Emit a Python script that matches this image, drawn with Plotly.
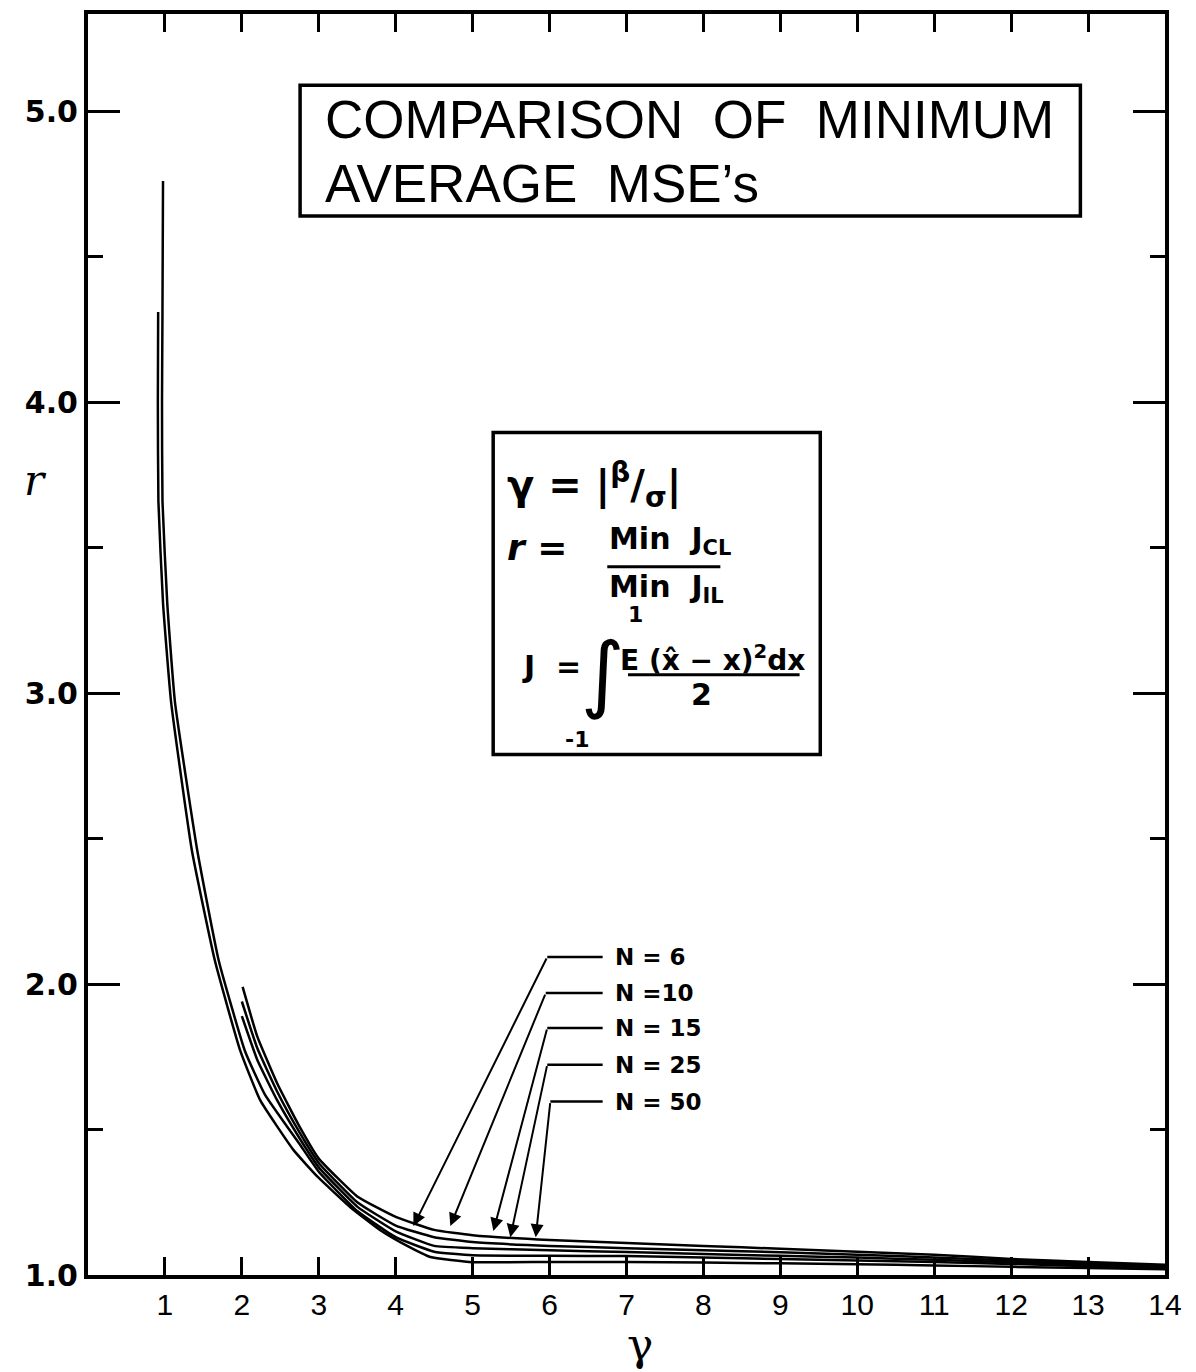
import plotly.graph_objects as go

# ---------------- data ----------------
gamma_N6 = [2.01, 2.2, 2.46, 2.75, 3.0, 3.5, 4.0, 4.5, 5.0, 6.0, 7.0, 8.0, 9.0, 10.0, 11.0, 12.0, 13.0, 14.0]
ratio_N6 = [1.99, 1.82, 1.658, 1.51, 1.40, 1.27, 1.20, 1.155, 1.137, 1.12, 1.11, 1.10, 1.09, 1.08, 1.07, 1.055, 1.045, 1.035]

gamma_N10 = [2.0, 2.2, 2.46, 2.75, 3.0, 3.5, 4.0, 4.5, 5.0, 6.0, 7.0, 8.0, 9.0, 10.0, 11.0, 12.0, 13.0, 14.0]
ratio_N10 = [1.94, 1.78, 1.63, 1.49, 1.385, 1.25, 1.17, 1.13, 1.113, 1.10, 1.092, 1.085, 1.078, 1.07, 1.06, 1.05, 1.04, 1.03]

gamma_N15 = [2.0, 2.2, 2.46, 2.75, 3.0, 3.5, 4.0, 4.5, 5.0, 6.0, 7.0, 8.0, 9.0, 10.0, 11.0, 12.0, 13.0, 14.0]
ratio_N15 = [1.89, 1.74, 1.60, 1.47, 1.37, 1.235, 1.15, 1.10, 1.092, 1.085, 1.079, 1.072, 1.066, 1.06, 1.052, 1.044, 1.036, 1.028]

gamma_N25 = [0.975, 0.968, 0.962, 0.968, 1.03, 1.13, 1.42, 1.70, 2.04, 2.3, 2.75, 3.0, 3.5, 4.0, 4.5, 5.0, 6.0, 7.0, 8.0, 9.0, 10.0, 11.0, 12.0, 13.0, 14.0]
ratio_N25 = [4.76, 4.31, 4.00, 3.66, 3.31, 2.97, 2.46, 2.08, 1.77, 1.62, 1.45, 1.355, 1.22, 1.13, 1.08, 1.068, 1.066, 1.065, 1.06, 1.055, 1.05, 1.045, 1.038, 1.03, 1.025]

gamma_N50 = [0.912, 0.908, 0.915, 0.975, 1.08, 1.35, 1.65, 1.98, 2.24, 2.67, 2.99, 3.41, 3.80, 4.15, 4.45, 5.0, 6.0, 7.0, 8.0, 9.0, 10.0, 11.0, 12.0, 13.0, 14.0]
ratio_N50 = [4.31, 4.00, 3.66, 3.31, 2.97, 2.46, 2.08, 1.77, 1.60, 1.43, 1.336, 1.233, 1.154, 1.10, 1.062, 1.044, 1.045, 1.045, 1.043, 1.04, 1.037, 1.033, 1.028, 1.024, 1.02]

curve_names = ["N = 6", "N = 10", "N = 15", "N = 25", "N = 50"]
curve_gammas = [gamma_N6, gamma_N10, gamma_N15, gamma_N25, gamma_N50]
curve_ratios = [ratio_N6, ratio_N10, ratio_N15, ratio_N25, ratio_N50]

label_texts = ["N = 6", "N =10", "N = 15", "N = 25", "N = 50"]
label_y = [2.093, 1.969, 1.849, 1.723, 1.596]
label_x = 6.82
elbow_x = [5.97, 5.95, 5.97, 5.97, 6.01]
line_end_x = 6.69
tip_x = [4.23, 4.71, 5.27, 5.49, 5.82]
tip_y = [1.168, 1.168, 1.151, 1.130, 1.130]

x_ticks = list(range(1, 15))
y_ticks = [1.0, 2.0, 3.0, 4.0, 5.0]
y_tick_text = ["1.0", "2.0", "3.0", "4.0", "5.0"]

title_lines = ["COMPARISON  OF  MINIMUM", "AVERAGE  MSE\u2019s"]

# ---------------- figure ----------------
fig = go.Figure()
for g, r, n in zip(curve_gammas, curve_ratios, curve_names):
    fig.add_trace(go.Scatter(x=g, y=r, mode="lines", name=n,
                             line=dict(color="black", width=2.5, shape="spline", smoothing=0.4),
                             showlegend=False, hoverinfo="skip"))

font_main = "Liberation Sans, Arial, sans-serif"
font_bold = "DejaVu Sans, sans-serif"
shapes = []
annotations = []

# labels with arrows
for t, ly, ex, tx, ty in zip(label_texts, label_y, elbow_x, tip_x, tip_y):
    annotations.append(dict(x=label_x, y=ly, xref="x", yref="y", text="<b>%s</b>" % t,
                            showarrow=False, xanchor="left", yanchor="middle",
                            font=dict(family=font_bold, size=23, color="black")))
    shapes.append(dict(type="line", xref="x", yref="y", x0=ex, y0=ly, x1=line_end_x, y1=ly,
                       line=dict(color="black", width=2.5)))
    annotations.append(dict(x=tx, y=ty, xref="x", yref="y", ax=ex, ay=ly, axref="x", ayref="y",
                            text="", showarrow=True, arrowhead=2, arrowsize=1.3, arrowwidth=2,
                            arrowcolor="black"))

# title box
shapes.append(dict(type="rect", xref="x", yref="y", x0=2.757, x1=12.90, y0=4.64, y1=5.089,
                   line=dict(color="black", width=3.5)))
annotations.append(dict(x=3.05, y=4.97, xref="x", yref="y", text=title_lines[0], showarrow=False,
                        xanchor="left", yanchor="middle",
                        font=dict(family=font_main, size=53, color="black")))
annotations.append(dict(x=3.05, y=4.75, xref="x", yref="y", text=title_lines[1], showarrow=False,
                        xanchor="left", yanchor="middle",
                        font=dict(family=font_main, size=53, color="black")))

# formula box
shapes.append(dict(type="rect", xref="x", yref="y", x0=5.267, x1=9.519, y0=2.789, y1=3.896,
                   line=dict(color="black", width=3.5)))
ff = dict(family=font_bold, size=30, color="black")
annotations += [
    dict(x=5.42, y=3.715, xref="x", yref="y", showarrow=False, xanchor="left", yanchor="middle",
         text="<b>\u03b3 = |<sup>\u03b2</sup>/<sub>\u03c3</sub>|</b>", font=dict(family=font_bold, size=40, color="black")),
    dict(x=5.42, y=3.50, xref="x", yref="y", showarrow=False, xanchor="left", yanchor="middle",
         text="<b><i>r</i> =</b>", font=dict(family=font_bold, size=36, color="black")),
    dict(x=6.75, y=3.525, xref="x", yref="y", showarrow=False, xanchor="left", yanchor="middle",
         text="<b>Min  J<sub>CL</sub></b>", font=ff),
    dict(x=6.75, y=3.36, xref="x", yref="y", showarrow=False, xanchor="left", yanchor="middle",
         text="<b>Min  J<sub>IL</sub></b>", font=ff),
    dict(x=5.62, y=3.09, xref="x", yref="y", showarrow=False, xanchor="left", yanchor="middle",
         text="<b>J  =</b>", font=ff),
    dict(x=6.70, y=3.07, xref="x", yref="y", showarrow=False, xanchor="center", yanchor="middle",
         text="\u222b", font=dict(family="DejaVu Sans", size=84, color="black")),
    dict(x=7.12, y=3.27, xref="x", yref="y", showarrow=False, xanchor="center", yanchor="middle",
         text="<b>1</b>", font=dict(family=font_bold, size=22, color="black")),
    dict(x=6.36, y=2.84, xref="x", yref="y", showarrow=False, xanchor="center", yanchor="middle",
         text="<b>-1</b>", font=dict(family=font_bold, size=22, color="black")),
    dict(x=8.12, y=3.12, xref="x", yref="y", showarrow=False, xanchor="center", yanchor="middle",
         text="<b>E (x\u0302 \u2212 x)<sup>2</sup>dx</b>", font=dict(family=font_bold, size=28, color="black")),
    dict(x=7.98, y=2.995, xref="x", yref="y", showarrow=False, xanchor="center", yanchor="middle",
         text="<b>2</b>", font=ff),
]
shapes.append(dict(type="line", xref="x", yref="y", x0=6.75, x1=8.22, y0=3.434, y1=3.434,
                   line=dict(color="black", width=3)))
shapes.append(dict(type="line", xref="x", yref="y", x0=7.02, x1=9.25, y0=3.063, y1=3.063,
                   line=dict(color="black", width=3)))

# axis labels
annotations.append(dict(x=-0.049, y=3.73, xref="paper", yref="y", text="<i>r</i>", showarrow=False,
                        xanchor="center", yanchor="middle",
                        font=dict(family="DejaVu Serif", size=42, color="black")))
annotations.append(dict(x=7.18, y=-0.055, xref="x", yref="paper", text="\u03b3", showarrow=False,
                        xanchor="center", yanchor="middle",
                        font=dict(family="DejaVu Serif", size=44, color="black")))

fig.update_layout(
    width=1196, height=1372,
    margin=dict(l=88, r=31, t=10, b=97),
    paper_bgcolor="white", plot_bgcolor="white",
    shapes=shapes, annotations=annotations,
    showlegend=False,
)
fig.update_xaxes(range=[0, 14], tickvals=x_ticks, ticks="inside", ticklen=18, tickwidth=3,
                 tickcolor="black", showline=True, linewidth=4, linecolor="black", mirror="allticks",
                 showgrid=False, zeroline=False,
                 tickfont=dict(family=font_main, size=30, color="black"))
fig.update_yaxes(range=[1.0, 5.334], tickvals=y_ticks, ticktext=y_tick_text, ticks="inside", ticklen=32,
                 tickwidth=3, tickcolor="black", showline=True, linewidth=4, linecolor="black",
                 mirror="allticks", showgrid=False, zeroline=False,
                 minor=dict(dtick=0.5, tick0=1.0, ticks="inside", ticklen=15, tickwidth=3, tickcolor="black",
                            showgrid=False),
                 tickfont=dict(family=font_bold, size=30, color="black", weight="bold"))

fig.write_html("out.html")
